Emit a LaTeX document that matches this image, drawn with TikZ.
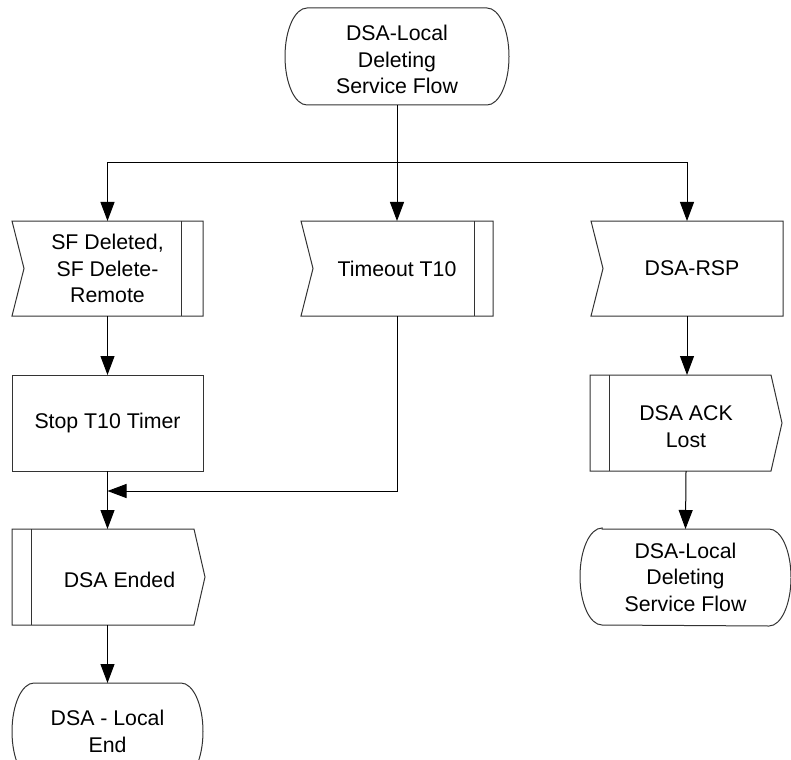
\documentclass[tikz,border=0pt]{standalone}
\usepackage{fontspec}
\setmainfont{Liberation Sans}
\usetikzlibrary{arrows.meta,calc}
\tikzset{
  lbl/.style={font=\fontsize{21.3}{26.5}\selectfont, align=center, inner sep=0pt, outer sep=0pt},
  frame/.style={draw=black!80, line width=1pt, line join=miter},
  conn/.style={draw=black, line width=1pt},
  arr/.style={conn, -{Triangle[length=19pt,width=14pt]}},
}
\newcommand{\termshape}[1]{%
  \draw[frame] ([xshift=22pt]#1.north west) -- ([xshift=-22pt]#1.north east)
    arc[start angle=90, end angle=-90, x radius=22pt, y radius=48.5pt]
    -- ([xshift=22pt]#1.south west)
    arc[start angle=270, end angle=90, x radius=22pt, y radius=48.5pt] -- cycle;}
\newcommand{\recvshape}[1]{%
  \draw[frame] (#1.north west) -- (#1.north east) -- (#1.south east) -- (#1.south west)
    -- ([xshift=12pt]#1.west) -- cycle;}
\newcommand{\recvbar}[2]{%
  \draw[frame] ([xshift=-#2]#1.north east) -- ([xshift=-#2]#1.south east);}
\newcommand{\sendshape}[2]{%
  \draw[frame] (#1.north west) -- ([xshift=-11pt]#1.north east) -- (#1.east)
    -- ([xshift=-11pt]#1.south east) -- (#1.south west) -- cycle;
  \draw[frame] ([xshift=#2]#1.north west) -- ([xshift=#2]#1.south west);}
\newcommand{\lowr}{\rule{0pt}{22pt}}
\begin{document}
\begin{tikzpicture}[x=1pt,y=-1pt]
\useasboundingbox (0,0) rectangle (791,759);
\clip (0,0) rectangle (791,759);

% nodes
\node[lbl, minimum width=224pt, minimum height=97pt] (top) at (397,56.5) {\lowr DSA-Local\\Deleting\\Service Flow};
\node[lbl, minimum width=191pt, minimum height=95pt] (sf) at (107.5,268.5) {SF Deleted,\\SF Delete-\\Remote};
\node[lbl, minimum width=192pt, minimum height=95pt] (tmo) at (397,268.5) {Timeout T10};
\node[lbl, minimum width=192pt, minimum height=95pt] (rsp) at (687,268.5) {\hspace*{10pt}DSA-RSP};
\node[lbl, minimum width=191pt, minimum height=96pt] (stop) at (107.5,423) {Stop T10 Timer};
\node[lbl, minimum width=193pt, minimum height=96pt] (ended) at (108.5,577) {\lowr\hspace*{22pt}DSA Ended};
\node[lbl, minimum width=192pt, minimum height=96pt] (ack) at (686,423) {\lowr DSA ACK\\Lost};
\node[lbl, minimum width=211pt, minimum height=96pt] (endr) at (685.5,577) {DSA-Local\\Deleting\\Service Flow};
\node[lbl, minimum width=191pt, minimum height=97pt] (endl) at (107.5,731.5) {DSA - Local\\End};

% outlines
\termshape{top}
\termshape{endr}
\termshape{endl}
\recvshape{sf}
\recvbar{sf}{22pt}
\recvshape{tmo}
\recvbar{tmo}{19pt}
\recvshape{rsp}
\draw[frame] (stop.north west) rectangle (stop.south east);
\sendshape{ended}{19pt}
\sendshape{ack}{19pt}

% connectors
\coordinate (split) at (397,163);
\coordinate (mrow) at (0,491);
\coordinate (merge) at (stop.south |- mrow);
\draw[conn] (top.south) -- (split);
\draw[arr] (split) -| (sf.north);
\draw[arr] (split) -- (tmo.north);
\draw[arr] (split) -| (rsp.north);
\draw[arr] (sf.south) -- (stop.north);
\draw[arr] (stop.south) -- (stop.south |- ended.north);
\draw[arr] (tmo.south) |- (merge);
\draw[arr] (endl.north |- ended.south) -- (endl.north);
\draw[arr] (rsp.south) -- (rsp.south |- ack.north);
\draw[arr] (ack.south) -- (endr.north);
\end{tikzpicture}
\end{document}
